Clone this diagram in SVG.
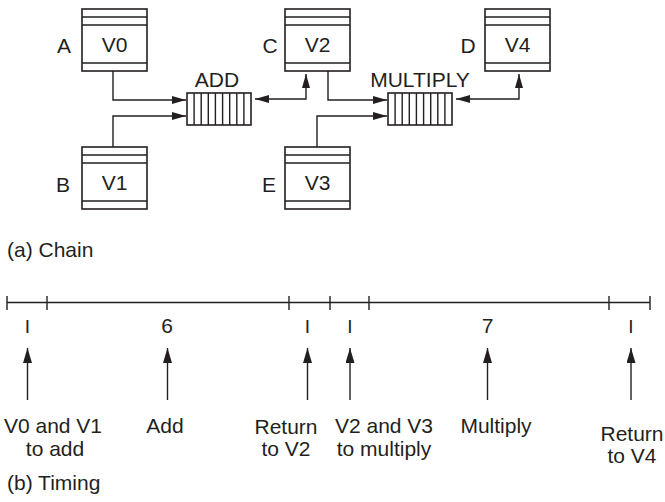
<svg xmlns="http://www.w3.org/2000/svg" width="665" height="502" viewBox="0 0 665 502">
<defs>
<style>
.bx{fill:#fff;stroke:#231f20;stroke-width:1.6}
.ln{fill:none;stroke:#231f20;stroke-width:1.4}
.cn{fill:none;stroke:#231f20;stroke-width:1.4}
.t{font-family:"Liberation Sans",Arial,sans-serif;font-size:21px;fill:#231f20}
.m{text-anchor:middle}
.s{font-family:"Liberation Sans",Arial,sans-serif;font-size:16px;fill:#231f20;text-anchor:middle}
</style>
<marker id="ah" viewBox="0 0 14 8" refX="14" refY="4" markerWidth="14" markerHeight="8" markerUnits="userSpaceOnUse" orient="auto-start-reverse">
<path d="M0,0 L14,4 L0,8 Z" fill="#231f20"/>
</marker>
<marker id="ab" viewBox="0 0 15 9" refX="15" refY="4.5" markerWidth="15" markerHeight="9" markerUnits="userSpaceOnUse" orient="auto">
<path d="M0,0 L15,4.5 L0,9 Z" fill="#231f20"/>
</marker>
<g id="reg">
<rect class="bx" x="0" y="0" width="65" height="62"/>
<path class="ln" d="M0,8 H65 M0,16 H65 M0,54 H65"/>
</g>
<g id="queue">
<rect class="bx" x="0" y="0" width="64" height="32"/>
<path class="ln" d="M7.1,0 V32 M14.2,0 V32 M21.3,0 V32 M28.4,0 V32 M35.6,0 V32 M42.7,0 V32 M49.8,0 V32 M56.9,0 V32"/>
</g>
</defs>
<rect width="665" height="502" fill="#fff"/>

<g id="nodeA">
<use href="#reg" x="82" y="9"/>
<text class="t m" x="114.5" y="52">V0</text>
<text class="t m" x="64" y="52.5">A</text>
</g>
<g id="nodeB">
<use href="#reg" x="82" y="147"/>
<text class="t m" x="114.5" y="190">V1</text>
<text class="t m" x="63" y="192">B</text>
</g>
<g id="nodeC">
<use href="#reg" x="285" y="9"/>
<text class="t m" x="317.5" y="52">V2</text>
<text class="t m" x="270" y="52.5">C</text>
</g>
<g id="nodeD">
<use href="#reg" x="485" y="9"/>
<text class="t m" x="517.5" y="52">V4</text>
<text class="t m" x="468" y="52.5">D</text>
</g>
<g id="nodeE">
<use href="#reg" x="285" y="147"/>
<text class="t m" x="317.5" y="190">V3</text>
<text class="t m" x="269" y="192">E</text>
</g>
<g id="add">
<use href="#queue" x="187" y="93"/>
<text class="t m" x="217" y="87">ADD</text>
</g>
<g id="multiply">
<use href="#queue" x="388" y="93"/>
<text class="t m" x="420" y="87">MULTIPLY</text>
</g>

<g id="connectors">
<path class="cn" d="M113,71 V100 H186" marker-end="url(#ah)"/>
<path class="cn" d="M113,147 V116 H186" marker-end="url(#ah)"/>
<path class="cn" d="M255,99 H306 V74" marker-start="url(#ah)" marker-end="url(#ah)"/>
<path class="cn" d="M328,71 V100 H387" marker-end="url(#ah)"/>
<path class="cn" d="M317,147 V116 H387" marker-end="url(#ah)"/>
<path class="cn" d="M456,99 H519 V74" marker-start="url(#ah)" marker-end="url(#ah)"/>
</g>

<text class="t" x="7" y="257">(a) Chain</text>

<g id="timeline">
<path class="ln" d="M7,302.5 H650 M7,296 V310 M47,296 V310 M289,296 V310 M330,296 V310 M369,296 V310 M609,296 V310 M650,296 V310"/>
<text class="s" x="27.5" y="333" style="font-size:19px">I</text>
<text class="s" x="307.5" y="333" style="font-size:19px">I</text>
<text class="s" x="350" y="333" style="font-size:19px">I</text>
<text class="s" x="631" y="333" style="font-size:19px">I</text>
<text class="t m" x="167" y="333">6</text>
<text class="t m" x="487.5" y="333">7</text>
</g>

<g id="timing-arrows">
<path class="cn" d="M27.5,400 V348" marker-end="url(#ab)"/>
<path class="cn" d="M167.5,400 V348" marker-end="url(#ab)"/>
<path class="cn" d="M307.5,400 V348" marker-end="url(#ab)"/>
<path class="cn" d="M350,400 V348" marker-end="url(#ab)"/>
<path class="cn" d="M487.5,400 V348" marker-end="url(#ab)"/>
<path class="cn" d="M631,400 V348" marker-end="url(#ab)"/>
</g>

<g id="timing-labels">
<text class="t m" x="53" y="433">V0 and V1</text>
<text class="t m" x="55" y="456">to add</text>
<text class="t m" x="165" y="433">Add</text>
<text class="t m" x="286" y="434">Return</text>
<text class="t m" x="286" y="456">to V2</text>
<text class="t m" x="384" y="433">V2 and V3</text>
<text class="t m" x="384" y="456">to multiply</text>
<text class="t m" x="496" y="433">Multiply</text>
<text class="t m" x="632" y="441">Return</text>
<text class="t m" x="632" y="463">to V4</text>
</g>

<text class="t" x="7" y="490">(b) Timing</text>
</svg>
